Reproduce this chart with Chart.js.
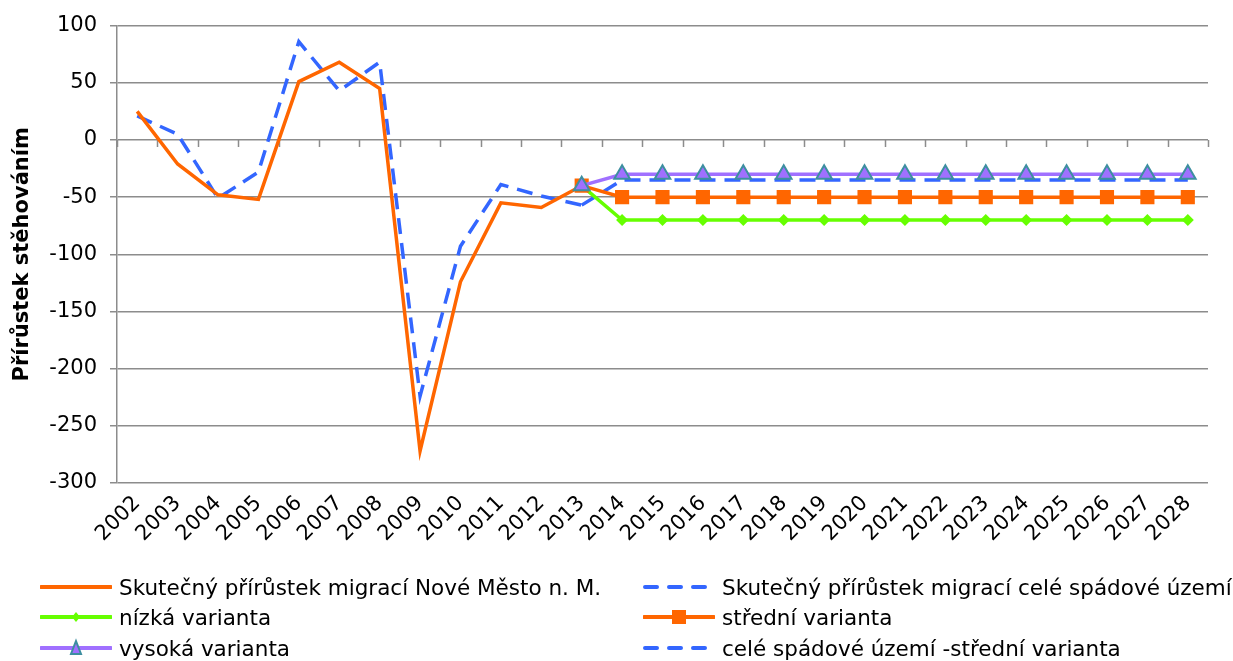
<!DOCTYPE html>
<html>
<head>
<meta charset="utf-8">
<script src="https://cdn.jsdelivr.net/npm/chart.js@4/dist/chart.umd.min.js"></script>
<style>
  html, body { margin: 0; padding: 0; background: #fff; }
  #wrap { position: relative; width: 1233px; height: 661px; font-family: "DejaVu Sans", Verdana, sans-serif; }
  #c { position: absolute; left: 0; top: 0; }
  .lg { position: absolute; height: 30px; display: flex; align-items: center; font-size: 21.5px; color: #000; white-space: nowrap; }
  .lg svg { margin-right: 7px; flex: none; }
</style>
</head>
<body>
<div id="wrap">
  <canvas id="c" width="1233" height="661"></canvas>
  <div id="legend"></div>
</div>
<script>
// ---- data ----
const years = ['2002','2003','2004','2005','2006','2007','2008','2009','2010','2011','2012','2013','2014','2015','2016','2017','2018','2019','2020','2021','2022','2023','2024','2025','2026','2027','2028'];
const actualTown = [25, -21, -48, -52, 51, 68, 45, -272, -124, -55, -59, -40, null, null, null, null, null, null, null, null, null, null, null, null, null, null, null];
const actualArea = [21, 5, -51, -28, 86, 43, 68, -224, -93, -39, -49, -57, null, null, null, null, null, null, null, null, null, null, null, null, null, null, null];
const lowVariant = [null, null, null, null, null, null, null, null, null, null, null, -40, -70, -70, -70, -70, -70, -70, -70, -70, -70, -70, -70, -70, -70, -70, -70];
const midVariant = [null, null, null, null, null, null, null, null, null, null, null, -40, -50, -50, -50, -50, -50, -50, -50, -50, -50, -50, -50, -50, -50, -50, -50];
const highVariant = [null, null, null, null, null, null, null, null, null, null, null, -40, -30, -30, -30, -30, -30, -30, -30, -30, -30, -30, -30, -30, -30, -30, -30];
const areaMidVariant = [null, null, null, null, null, null, null, null, null, null, null, -57, -35, -35, -35, -35, -35, -35, -35, -35, -35, -35, -35, -35, -35, -35, -35];
const yTicks = [100, 50, 0, -50, -100, -150, -200, -250, -300];
const seriesNames = [
  'Skutečný přírůstek migrací Nové Město n. M.',
  'Skutečný přírůstek migrací celé spádové území',
  'nízká varianta',
  'střední varianta',
  'vysoká varianta',
  'celé spádové území -střední varianta'
];
const yTitle = 'Přírůstek stěhováním';

const ORANGE = '#ff6600', BLUE = '#3366ff', GREEN = '#66ff00', PURPLE = '#a070ff', TEAL = '#3d8fa0';
const GRID = '#8c8c8c';
const FONT = '"DejaVu Sans", Verdana, sans-serif';

// tick marks on the zero line at category boundaries
const zeroTicks = {
  id: 'zeroTicks',
  beforeDatasetsDraw(chart) {
    const x = chart.scales.x, y = chart.scales.y, ctx = chart.ctx;
    const y0 = y.getPixelForValue(0);
    const step = x.getPixelForValue(1) - x.getPixelForValue(0);
    ctx.save();
    ctx.strokeStyle = GRID; ctx.lineWidth = 1.5;
    ctx.beginPath();
    for (let i = 0; i <= years.length; i++) {
      const px = Math.round(x.getPixelForValue(0) - step / 2 + i * step) + 0.5;
      ctx.moveTo(px, y0); ctx.lineTo(px, y0 + 7);
    }
    ctx.stroke();
    ctx.restore();
  }
};

new Chart(document.getElementById('c'), {
  type: 'line',
  data: {
    labels: years,
    datasets: [
      { label: seriesNames[4], data: highVariant, borderColor: PURPLE, backgroundColor: PURPLE, borderWidth: 3.5,
        pointStyle: 'triangle', pointRadius: 9, pointBackgroundColor: PURPLE, pointBorderColor: TEAL, pointBorderWidth: 2, order: 1 },
      { label: seriesNames[3], data: midVariant, borderColor: ORANGE, backgroundColor: ORANGE, borderWidth: 3.5,
        pointStyle: 'rect', pointRadius: 10, pointBackgroundColor: ORANGE, pointBorderColor: ORANGE, pointBorderWidth: 0, order: 2 },
      { label: seriesNames[2], data: lowVariant, borderColor: GREEN, backgroundColor: GREEN, borderWidth: 3.5,
        pointStyle: 'rectRot', pointRadius: 6, pointBackgroundColor: GREEN, pointBorderColor: GREEN, pointBorderWidth: 0, order: 3 },
      { label: seriesNames[5], data: areaMidVariant, borderColor: BLUE, borderWidth: 3.5, borderDash: [16, 9],
        pointRadius: 0, order: 4 },
      { label: seriesNames[0], data: actualTown, borderColor: ORANGE, borderWidth: 3.5, pointRadius: 0, order: 5 },
      { label: seriesNames[1], data: actualArea, borderColor: BLUE, borderWidth: 3.5, borderDash: [16, 9],
        pointRadius: 0, order: 6 }
    ]
  },
  options: {
    responsive: false,
    animation: false,
    events: [],
    layout: { padding: { top: 23, right: 25, left: 0, bottom: 0 } },
    plugins: { legend: { display: false }, tooltip: { enabled: false } },
    elements: { line: { tension: 0, borderJoinStyle: 'miter' } },
    scales: {
      x: {
        offset: true,
        grid: { display: false, drawTicks: false },
        border: { display: false },
        ticks: { color: '#000', font: { family: FONT, size: 21 }, minRotation: 45, maxRotation: 45, padding: 8, autoSkip: false },
        afterFit(s) { s.height = 661 - 483; }
      },
      y: {
        min: -300, max: 100,
        afterBuildTicks(s) { s.ticks = yTicks.map(v => ({ value: v })); },
        grid: { color: GRID, lineWidth: 1.5, tickLength: 7, drawTicks: true, tickColor: GRID },
        border: { display: true, color: GRID, width: 1.5 },
        ticks: { color: '#000', font: { family: FONT, size: 21 }, padding: 13 },
        title: { display: true, text: yTitle, color: '#000', font: { family: FONT, size: 21, weight: 'bold' }, padding: { top: 10, bottom: 0 } },
        afterFit(s) { s.width = 117; }
      }
    }
  },
  plugins: [zeroTicks]
});

// ---- HTML legend (two columns) ----
function sample(kind) {
  const w = 72, h = 20, m = h / 2;
  let s = `<svg width="${w}" height="${h}" viewBox="0 0 ${w} ${h}">`;
  if (kind === 0) s += `<line x1="1" y1="${m}" x2="${w-1}" y2="${m}" stroke="${ORANGE}" stroke-width="4" stroke-linecap="round"/>`;
  if (kind === 1 || kind === 5) s += `<line x1="2" y1="${m}" x2="${w}" y2="${m}" stroke="${BLUE}" stroke-width="4" stroke-dasharray="12 12" stroke-linecap="round"/>`;
  if (kind === 2) s += `<line x1="1" y1="${m}" x2="${w-1}" y2="${m}" stroke="${GREEN}" stroke-width="4" stroke-linecap="round"/><polygon points="${w/2},${m-5} ${w/2+4},${m} ${w/2},${m+5} ${w/2-4},${m}" fill="${GREEN}"/>`;
  if (kind === 3) s += `<line x1="1" y1="${m}" x2="${w-1}" y2="${m}" stroke="${ORANGE}" stroke-width="4" stroke-linecap="round"/><rect x="${w/2-7}" y="${m-7}" width="14" height="14" fill="${ORANGE}"/>`;
  if (kind === 4) s += `<line x1="1" y1="${m}" x2="${w-1}" y2="${m}" stroke="${PURPLE}" stroke-width="4" stroke-linecap="round"/><polygon points="${w/2},${m-7} ${w/2+5},${m+6} ${w/2-5},${m+6}" fill="${PURPLE}" stroke="${TEAL}" stroke-width="2"/>`;
  return s + '</svg>';
}
const lgPos = [[40, 572], [643, 572], [40, 602], [643, 602], [40, 633], [643, 633]];
const lgOrder = [0, 1, 2, 3, 4, 5];
document.getElementById('legend').innerHTML = lgOrder.map((k, i) =>
  `<div class="lg" style="left:${lgPos[i][0]}px;top:${lgPos[i][1]}px">${sample(k)}<span>${seriesNames[k]}</span></div>`
).join('');
</script>
</body>
</html>
